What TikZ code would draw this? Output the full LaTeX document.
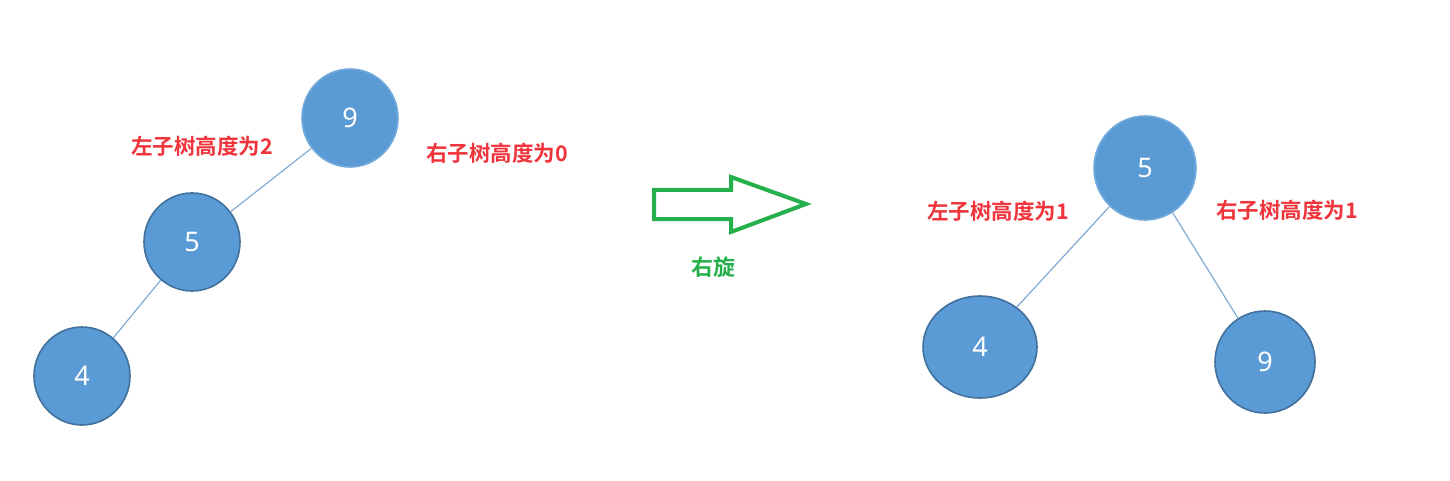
\documentclass[tikz,border=0pt]{standalone}
\usepackage{fontspec}
\setsansfont{Noto Sans}
\newfontfamily\cjk{Noto Sans CJK SC}[BoldFont={Noto Sans CJK SC Bold}]
\usepackage{tikz}
\usetikzlibrary{shapes,positioning}
\usepackage{xcolor}
\definecolor{avlblue}{RGB}{91,155,213}
\definecolor{avldark}{RGB}{65,113,156}
\definecolor{avlline}{RGB}{130,170,212}
\definecolor{avlred}{RGB}{240,52,60}
\definecolor{avlgreen}{RGB}{38,176,76}
\tikzstyle{treenode} = [ellipse, inner sep=0pt, minimum width=96pt, minimum height=98pt, fill=avlblue, draw=avldark, line width=1.6pt, text=white, font=\sffamily\fontsize{27}{27}\selectfont]
\tikzstyle{rootnode} = [treenode, draw=avlblue!85]
\tikzstyle{treeedge} = [draw=avlline, line width=1.2pt]
\tikzstyle{heightlabel} = [text=avlred, font=\cjk\bfseries\fontsize{21.5}{21.5}\selectfont]

\begin{document}
\begin{tikzpicture}[x=1pt, y=-1pt]
\useasboundingbox (0,0) rectangle (1450,481);
% Before rotation
\node[rootnode] (l9) at (350,118) {9};
\node[treenode] (l5) at (192,242) {5};
\node[treenode] (l4) at (82,376) {4};
\draw[treeedge] (l9) -- (l5);
\draw[treeedge] (l5) -- (l4);
\node[heightlabel] (lleft) at (202,146) {左子树高度为2};
\node[heightlabel] (lright) at (497,153) {右子树高度为0};

% Rotate arrow
\draw[avlgreen, line width=4pt, line join=miter] (654,190) -- (731,190) -- (731,177) -- (806,204) -- (731,232) -- (731,219) -- (654,219) -- cycle;
\node[text=avlgreen, font=\cjk\bfseries\fontsize{22}{22}\selectfont] (rot) at (713,267) {右旋};

% After rotation
\node[rootnode, minimum width=102pt, minimum height=104pt] (r5) at (1145,168) {5};
\node[treenode, minimum width=114pt, minimum height=102pt] (r4) at (980,347) {4};
\node[treenode, minimum width=100pt, minimum height=102pt] (r9) at (1265,362) {9};
\draw[treeedge] (r5) -- (r4);
\draw[treeedge] (r5) -- (r9);
\node[heightlabel] (rleft) at (998,211) {左子树高度为1};
\node[heightlabel] (rright) at (1287,210) {右子树高度为1};
\end{tikzpicture}
\end{document}
